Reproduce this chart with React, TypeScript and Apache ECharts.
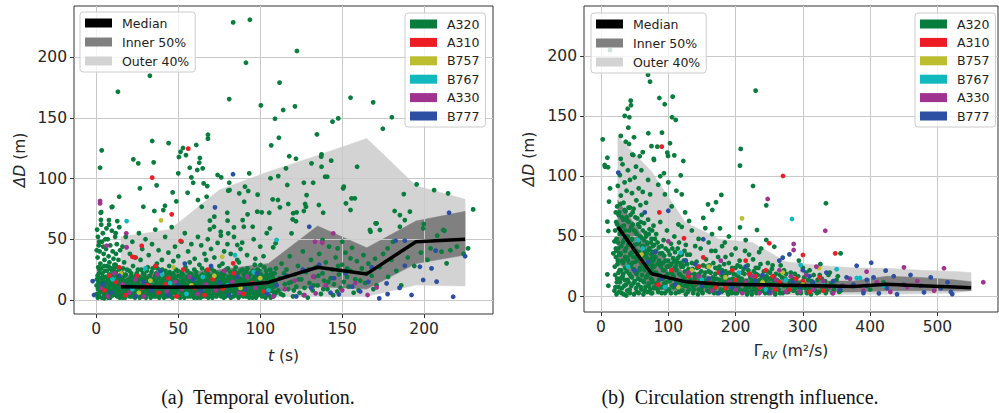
import React, { useEffect, useRef } from "react";
import * as echarts from "echarts";

const FONT = "DejaVu Sans";
const AIRCRAFT = ["A320", "A310", "B757", "B767", "A330", "B777"];
const AC_COLORS = ["#087d3e", "#ee1d25", "#bcbd2f", "#0fb9bd", "#a0338f", "#2c4fa3"];
const BAND_NAMES = ["Median", "Inner 50%", "Outer 40%"];
const BAND_COLORS = ["#000000", "#808080", "#d3d3d3"];

const LEFT_X_TICKS = [0, 50, 100, 150, 200];
const RIGHT_X_TICKS = [0, 100, 200, 300, 400, 500];
const Y_TICKS = [0, 50, 100, 150, 200];

// ---------- panel (a): temporal evolution ----------
const leftBinT = [15, 45, 75, 105, 135, 165, 195, 225];
const leftMedian = [11, 10.5, 11, 14.5, 27, 21.5, 48, 50];
const leftInnerLo = [4, 4, 5, 6, 11, 9, 30, 37];
const leftInnerHi = [20, 22, 25, 30, 61, 43, 65, 73];
const leftOuterLo = [2, 2, 2, 2.5, 2.7, 3, 12.3, 11.5];
const leftOuterHi = [52, 58, 90.5, 105.6, 119, 133, 94, 83];

const leftA320 = [
  [83.5,228.5],[93.7,230.7],[122.4,205],[91.3,195.3],[32.7,184.6],[13.2,171.4],[111.8,178.9],[81.1,165.4],[100.4,160.2],[114,156.4],[121.2,159.4],[155.1,166.5],[168.9,162.7],[180.3,150.4],[174.8,141],[109,149.2],[144.1,146.8],[147.6,149.5],[134.6,136.4],[111.4,133.6],[106.7,127.3],[137.4,119.9],[117.7,118.3],[121.8,116.3],[3.3,123.2],[34.1,130.9],[44.1,129.2],[68.1,132.8],[68.1,136],[61,127.6],[52.9,125.1],[50.4,117.7],[54.7,119.3],[63.2,116.9],[22.6,115.8],[2.3,108.9],[25.6,112.5],[35,113.3],[36.8,94.4],[26.6,91.9],[9.4,76.5],[14,85],[3,72.4],[28.7,76.8],[35.4,73.3],[40.9,74],[41.9,77.6],[46.6,88.6],[48.8,81.2],[50,104.3],[51.4,122],[57,108.9],[58,101],[59.1,96.5],[55.7,88.3],[62,82.3],[67.3,85],[65.5,96],[67.7,93.8],[64.9,108.4],[61.6,107],[62.8,113],[74,102.9],[76.2,101],[81.1,96.5],[81.3,90.5],[79.9,71.8],[80.1,65.3],[72,68.6],[69.3,58.2],[64.3,76.8],[69.3,65.3],[87.2,87.8],[90.7,93.3],[93.3,104.3],[92.7,89.7],[90.2,80.9],[92.3,70.5],[89.3,65.8],[95.4,60.3],[98.4,86.7],[100.9,72.2],[105.9,59],[107.6,82.9],[105.5,71.8],[112,76.3],[111,102],[106.3,100.2],[115.7,108.4],[116.5,94.7],[117.1,79],[120.1,71.4],[121.8,64.8],[119.1,54.9],[126.6,96.5],[128.3,86.4],[127.9,76.8],[131.3,112.5],[137.2,118],[137.4,109.7],[139.6,101.5],[143.3,114.7],[138.4,71.8],[138,49.4],[135.8,78.2],[132.3,96.5],[147.2,42.5],[150.6,91.9],[152.3,79.6],[155.7,83.7],[155.1,74.1],[159.1,109.7],[151,93.3],[166.9,57.6],[171,63.1],[173,57.6],[167.3,56.2],[187.6,87.2],[188.2,65.8],[185.2,69.9],[191.3,72.7],[185.2,60.3],[195.4,95.2],[199.8,62.6],[199.4,59],[206.1,90.5],[214.6,87.8],[211.6,57.6],[213.7,30.2],[229.9,74.6],[226.8,42.5],[177.7,42.5],[182,73.3],[203.9,42.5],[210.6,39.8],[9.8,76.8],[7.7,65.8],[2.7,71.8],[84,59.8],[90,60.3],[80.5,54.9],[71.8,60.3],[75.9,56.2],[86,45.3],[89,47.2],[100.2,28.8],[109.4,46.7],[107.9,43.4],[98.2,72.7],[80.5,90],[110.8,82.3],[127.4,79],[126.6,73.3],[122.2,72.2],[119.8,66.4],[155.1,34.3],[153,26.1],[150,48],[170.4,63.1],[212.4,57],[157.7,83.7],[140.9,101.5],
  [0.5,58],[1,52],[1.5,45],[2,40],[0.8,35],[2.5,30],[1.2,27],[3.5,48],[4,55],[4.5,38],[5,33],[3,62],[6,42],[6.5,28],[7,50],[7.5,36],[8,31],[8.5,45],[9,25],[9.5,57],[10,40],[10.5,34],[11,29],[11.5,52],[12,38],[12.5,46],[13,27],[13.5,33],[14,60],[14.5,41],[1.8,48],[2.8,66],[4.2,44],[5.5,50],[0.3,41],[6.2,59],[7.8,62],[11.8,55],[12.8,65],
  [16,44],[18,52],[20.5,38],[22,48],[24,35],[26,55],[28,42],[30,50],[32,37],[34,46],[36,58],[38,41],[40,33],[42,52],[44,39],[46,60],[48,44],[50,36],[52,48],[54,55],[56,40],[58,46],[60,34],[62,52],[64,45],[66,38],[68,50],[70,42],[72,35],[74,47],[76,53],[78,40],[80,46],[82,38],[84,52],[86,33],[88,42],[92,37],[96,50],[100,44],[102,36],[104,55],[17,31],[27,33],[37,30],[47,32],[57,31],[67,33],[77,30],[87,31],[97,34],
  [0.2,12],[0.5,5],[0.8,20],[1,9],[1.3,15],[1.6,3],[1.9,25],[2.2,11],[2.5,7],[2.8,18],[3.1,14],[3.4,2],[3.7,22],[4,9],[4.3,16],[4.6,5],[4.9,28],[5.2,12],[5.5,19],[5.8,7],[6.1,3],[6.4,24],[6.7,13],[7,9],[7.3,17],[7.6,5],[7.9,21],[8.2,11],[8.5,2],[8.8,15],[9.1,26],[9.4,8],[9.7,19],[10,13],[10.3,4],[10.6,23],[10.9,10],[11.2,16],[11.5,6],[11.8,29],[12.1,12],[12.4,20],[12.7,3],[13,9],[13.3,17],[13.6,14],[13.9,25],[14.2,7],[14.5,11],
  [15,4],[15.4,18],[15.8,10],[16.3,26],[16.7,6],[17.1,14],[17.6,2],[18,21],[18.4,9],[18.9,16],[19.3,5],[19.8,12],[20.2,24],[20.6,8],[21.1,19],[21.5,3],[22,13],[22.4,28],[22.9,7],[23.3,17],[23.8,11],[24.2,4],[24.7,22],[25.1,14],[25.6,9],[26,19],[26.5,2],[26.9,12],[27.4,25],[27.8,6],[28.3,16],[28.7,10],[29.2,21],[29.6,4],[30.1,13],[30.5,8],[31,18],[31.4,27],[31.9,5],[32.3,11],[32.8,15],[33.2,2],[33.7,23],[34.1,9],[34.6,17],[35,6],[35.5,12],[35.9,20],[36.4,3],[36.8,14],[37.3,26],[37.7,8],[38.2,18],[38.6,11],[39.1,4],[39.5,22],[40,13],[40.4,7],[40.9,16],[41.3,2],[41.8,10],[42.2,24],[42.7,5],[43.1,19],[43.6,12],[44,8],[44.5,28],[44.9,15],[45.4,3],[45.8,21],[46.3,9],[46.7,13],[47.2,6],[47.6,18],[48.1,11],[48.5,25],[49,4],[49.4,16],[49.9,8],[50.3,20],[50.8,12],[51.2,2],[51.7,14],[52.1,23],[52.6,7],[53,17],[53.5,10],[53.9,5],[54.4,27],[54.8,13],[55.3,19],[55.7,3],[56.2,9],[56.6,15],[57.1,22],[57.5,6],[58,12],[58.4,18],[58.9,4],[59.3,10],[59.8,25],[60.2,14],[60.7,7],[61.1,20],[61.6,2],[62,11],[62.5,16],[62.9,29],[63.4,5],[63.8,13],[64.3,9],[64.7,21],[65.2,3],[65.6,17],[66.1,12],[66.5,6],[67,24],[67.4,10],[67.9,15],[68.3,2],[68.8,19],[69.2,8],[69.7,13],[70.1,26],[70.6,4],[71,16],[71.5,11],[71.9,7],[72.4,21],[72.8,14],[73.3,3],[73.7,18],[74.2,9],[74.6,12],[75.1,28],[75.5,5],[76,15],[76.4,22],[76.9,8],[77.3,11],[77.8,2],[78.2,17],[78.7,13],[79.1,25],[79.6,6],[80,10],[80.5,19],[80.9,4],[81.4,14],[81.8,23],[82.3,8],[82.7,16],[83.2,12],[83.6,3],[84.1,20],[84.5,10],[85,27],[85.4,6],[85.9,15],[86.3,12],[86.8,2],[87.2,18],[87.7,9],[88.1,24],[88.6,5],[89,14],[89.5,11],[89.9,21],[90.4,7],[90.8,16],[91.3,3],[91.7,12],[92.2,26],[92.6,9],[93.1,19],[93.5,5],[94,14],[94.4,22],[94.9,10],[95.3,2],[95.8,17],[96.2,12],[96.7,29],[97.1,7],[97.6,15],[98,20],[98.5,4],[98.9,11],[99.4,24],[99.8,8],[100.3,16],[100.7,13],[101.2,3],[101.6,19],[102.1,10],[102.5,27],[103,6],[103.4,14],[103.9,21],[104.3,9],[104.8,17],[105.2,4],[105.7,12],[106.1,25],[106.6,8],[107,15],[107.5,19],[107.9,3],[108.4,11],[108.8,22],[109.3,14],[109.7,6],
  [0.4,17],[0.9,2],[1.4,10],[1.7,22],[2.1,6],[2.6,14],[3,26],[3.3,8],[3.9,19],[4.4,12],[4.8,1.5],[5.3,24],[5.7,15],[6.2,9],[6.6,19],[7.1,2],[7.5,13],[8,27],[8.4,7],[8.9,21],[9.3,14],[9.8,4],[10.2,18],[10.7,26],[11.1,8],[11.6,13],[12,23],[12.5,5],[12.9,16],[13.4,10],[13.8,20],[14.3,2],[14.7,15],
  [15.2,12],[15.6,22],[16.1,2],[16.5,16],[17,9],[17.4,20],[17.9,12],[18.3,5],[18.7,25],[19.1,14],[19.6,8],[20,17],[20.4,3],[20.9,11],[21.3,22],[21.8,15],[22.2,6],[22.7,18],[23.1,10],[23.6,2],[24,20],[24.5,13],[24.9,7],[25.4,25],[25.8,16],[26.3,5],[26.7,11],[27.2,18],[27.6,9],[28.1,3],[28.5,22],[29,14],[29.4,8],[29.9,18],[30.3,2],[30.8,24],[31.2,10],[31.7,15],[32.1,7],[32.6,20],[33,13],[33.5,5],[33.9,17],[34.4,26],[34.8,12],[35.3,3],[35.7,9],[36.2,16],[36.6,22],[37.1,5],[37.5,11],[38,14],[38.4,2],[38.9,20],[39.3,9],[39.8,16],[40.2,25],[40.7,11],[41.1,4],[41.6,18],[42,8],[42.5,13],[42.9,21],[43.4,3],[43.8,15],[44.3,10],[44.7,23],[45.2,6],[45.6,17],[46.1,12],[46.5,2],[47,22],[47.4,9],[47.9,14],[48.3,19],[48.8,6],[49.2,12],[49.7,24],[50.1,3],[50.6,15],[51,9],[51.5,19],[51.9,5],[52.4,11],[52.8,21],[53.3,14],[53.7,2],[54.2,17],[54.6,8],[55.1,12],[55.5,24],[56,6],[56.4,18],[56.9,11],[57.3,3],[57.8,15],[58.2,21],[58.7,8],[59.1,13],[59.6,2],[60,18],[60.5,10],[60.9,23],[61.4,5],[61.8,14],[62.3,8],[62.7,19],[63.2,12],[63.6,2],[64.1,16],[64.5,26],[65,10],[65.4,6],[65.9,20],[66.3,14],[66.8,3],[67.2,17],[67.7,8],[68.1,22],[68.6,12],[69,5],[69.5,16],[69.9,10],[70.4,20],[70.8,2],[71.3,13],[71.7,24],[72.2,6],[72.6,17],[73.1,10],[73.5,22],[74,5],[74.4,15],[74.9,8],[75.3,19],[75.8,12],[76.2,3],[76.7,18],[77.1,14],[77.6,6],[78,21],[78.5,9],[78.9,3],[79.4,16],[79.8,12],[80.3,26],[80.7,7],[81.2,18],[81.6,11],[82.1,2],[82.5,20],[83,14],[83.4,7],[83.9,17],[84.3,24],[84.8,4],[85.2,13],[85.7,19],[86.1,8],[86.6,22],[87,15],[87.5,4],[87.9,11],[88.4,17],[88.8,8],[89.3,25],[89.7,3],[90.2,13],[90.6,19],[91.1,9],[91.5,23],[92,6],[92.4,15],[92.9,11],[93.3,2],[93.8,21],[94.2,8],[94.7,16],[95.1,12],[95.6,24],[96,5],[96.5,19],[96.9,9],[97.4,2],[97.8,13],[98.3,25],[98.7,16],[99.2,6],[99.6,18],[100.1,10],[100.5,21],[101,4],[101.4,14],[101.9,8],[102.3,18],[102.8,12],[103.2,2],[103.7,24],[104.1,15],[104.6,6],[105,20],[105.5,9],[105.9,16],[106.4,2],[106.8,22],[107.3,11],[107.7,7],[108.2,17],[108.6,4],[109.1,13],[109.5,26],
  [111,8],[112,18],[113,30],[114,4],[115,13],[116,25],[117,9],[118,36],[119,15],[120,3],[121,21],[122,11],[123,28],[124,6],[125,17],[126,40],[127,10],[128,23],[129,2],[130,14],[131,33],[132,8],[133,19],[134,27],[135,12],[136,38],[137,5],[138,22],[139,16],[140,31],[141,9],[142,44],[143,18],[144,25],[145,13],[146,35],[147,7],[148,21],[150,29],[151,15],[152,39],[154,11],[155,24],[156,43],[158,17],[159,32],[160,8],[162,26],[163,37],[164,14],[166,30],[168,20],[170,34],[171,12],[173,27],[175,38],[178,19],[180,33],[181,48],[183,24],[186,12],[190,35],[194,28],[198,39],[202,33],[208,53],[216,41],[220,44],[224,38],
  [112.5,5],[114.5,22],[117.5,14],[120.5,8],[123.5,17],[126.5,4],[129.5,25],[132.5,12],[135.5,20],[138.5,9],[141.5,15],[144.5,4],[147.5,28],[149,10],[153,19],[157,6],[161,16],[165,22],[169,9]
];
const leftA310 = [[56.1,124.6],[34.1,100.7],[46,70.5],[51.4,48.6],[27.7,44.7],[22,35.6],[23.5,35],[83.5,30.2],[5,8],[12,15],[18,4],[25,20],[31,12],[38,6],[44,18],[49,3],[53,25],[60,10],[66,4],[71,17],[77,9],[84,22],[90,5],[95,14],[102,7],[68,25],[36,28],[14,27],[8,20],[28,10],[42,13]];
const leftB757 = [[39.5,65.6],[76.8,35.6],[15,22],[33,16],[47,27],[58,12],[72,20],[88,10],[26,6],[100,18]];
const leftB767 = [[18.5,65],[84.6,37],[110,49.4],[10,17],[22,9],[30,26],[45,14],[55,5],[65,19],[80,12],[96,23],[105,8],[40,21]];
const leftA330 = [[2.3,81.5],[2.3,79.5],[18.3,54.9],[18.5,43.4],[6.3,44.7],[133.4,48],[144.5,54.9],[137.8,47.2],[165.5,4.1],[171,10.4],[133.8,5.5],[132.3,19.2],[3,10],[7,3],[11,22],[16,13],[20,6],[24,17],[29,3],[33,11],[37,21],[43,7],[48,15],[52,9],[57,19],[62,5],[67,13],[73,8],[78,24],[83,15],[87,6],[92,19],[97,10],[103,14],[108,3],[115,9],[121,16],[127,4],[140,12],[150,8],[158,14]];
const leftB777 = [[83.4,103.5],[72.4,76.3],[129.9,60.3],[215.2,71.8],[217.7,2.7],[207.6,15.1],[204.5,26],[207,40.6],[197.4,27.4],[199.4,16.5],[192.3,4.1],[188.2,28.2],[188.2,48.8],[182.6,48.8],[172.6,1.4],[177.7,4.9],[177.1,13.7],[156.1,11],[148,4.7],[142.9,6],[-2.2,15.6],[-1.4,4.1],[4,13],[9,6],[14,20],[19,11],[24,3],[29,15],[34,8],[39,24],[44,4],[50,12],[54,30],[59,17],[64,8],[70,28],[75,14],[81,4],[86,19],[91,9],[98,22],[104,5],[110,12],[116,20],[122,3],[126,25],[131,10],[136,29],[145,18],[152,22],[161,7],[166,15],[168,27],[185,10],[225,36]];

// ---------- panel (b): circulation strength ----------
const rightBinG = [25, 75, 125, 175, 225, 275, 325, 375, 425, 475, 525, 550];
const rightMedian = [58, 19, 12.5, 10.5, 10, 9.5, 9, 8.5, 10.3, 9, 8, 7.5];
const rightInnerLo = [28, 6, 4.5, 4, 4, 4, 4, 4, 5, 5, 5, 5];
const rightInnerHi = [80, 40, 20, 16, 15, 14, 13, 13, 17, 16, 14, 12.5];
const rightOuterLo = [2, 1.5, 1.5, 1.5, 1.5, 1.5, 1.5, 2, 2, 2.5, 3, 5];
const rightOuterHi = [133, 104, 62, 48, 45, 29, 26, 24, 23.6, 22, 21, 20];

const rightA320 = [
  [13.4,204.7],[69.8,184.4],[72.8,178.6],[229.8,171.1],[86.7,165],[106.5,166.1],[44.1,162.8],[44.6,159],[39.6,156.1],[94.6,159.8],[35.2,150.1],[42.1,149],[105.5,149],[111,146.8],[40.6,140.4],[2.5,130.7],[29.3,133.5],[49,132.4],[70.3,135.7],[90.6,136.2],[36.7,128.7],[41.6,126.8],[83.7,124.6],[102.5,127.4],[98.5,119.6],[99.6,116.9],[108.9,117.4],[207.6,122.7],[9.4,115.4],[29.3,114.4],[48,117.7],[57.5,116.6],[78.3,114.4],[5.4,109.4],[10.4,107.5],[46.5,118],[122.3,112.7],[118.4,100.8],[93.6,102.5],[78.8,113.5],[206.5,108.8],[225.9,91.9],[178.8,84.5],[170.9,78.4],[159,76.7],[165.4,72],[152,65.4],[130.8,62.9],[176.8,56.8],[206.5,57.6],[231.8,55.4],[245.6,75.9],[334.3,77.6],[245.6,47.1],[257.5,41.5],[356.1,36],
  [5.9,108],[13.4,90],[11.9,79],[9.4,62.3],[10.9,54.6],[9.4,18.6],[10.9,9.1],[18.3,36],[20,46],
  [95,85],[105,75],[115,60],[125,70],[135,55],[145,48],[140,42],[160,45],[170,38],[185,33],[190,50],[200,40],[215,47],[220,35],[235,37],[155,57],[165,52],[180,42],[112,88],[100,95],[88,100],[120,85],[60,105],[70,97],[52,108],[62,120],[75,125],[85,93],
  [20,5],[21,18],[22,33],[22.5,62],[23,48],[23.5,12],[24,75],[24.5,27],[25,92],[25.5,40],[26,8],[26.5,57],[27,70],[27.5,22],[28,101],[28.5,36],[29,15],[29.5,84],[30,52],[30.5,3],[31,66],[31.5,29],[32,110],[32.5,45],[33,19],[33.5,78],[34,59],[34.5,9],[35,95],[35.5,38],[36,24],[36.5,71],[37,50],[37.5,1],[38,88],[38.5,31],[39,63],[39.5,14],[40,105],[40.5,43],[41,74],[41.5,26],[42,55],[42.5,6],[43,97],[43.5,35],[44,68],[44.5,17],[45,47],
  [46,86],[46.5,28],[47,60],[48,11],[48.5,73],[49,40],[50,99],[50.5,21],[51,54],[52,33],[52.5,80],[53,4],[54,65],[54.5,44],[55,15],[56,90],[56.5,37],[57,58],[58,24],[58.5,76],[59,8],[60,49],[60.5,68],[61,30],[62,87],[62.5,13],[63,42],[64,61],[64.5,22],[65,5],[66,53],[66.5,35],[67,78],[68,17],[68.5,45],[69,28],[70,64],[70.5,9],[71,39],[72,56],[72.5,20],[73,85],[74,31],[74.5,3],[75,48],[76,14],[76.5,37],[77,26],[78,59],[78.5,7],[79,43],[80,19],
  [81,33],[82,52],[83,11],[84,27],[85,4],[86,41],[87,18],[88,62],[89,25],[90,8],[91,36],[92,15],[93,47],[94,22],[95,3],[96,30],[97,12],[98,55],[99,19],[100,38],[101,6],[102,26],[103,14],[104,44],[105,21],[106,9],[107,32],[108,17],[109,50],[110,24],[111,3],[112,13],[113,29],[114,40],[115,7],[116,19],[117,34],[118,11],[119,25],[120,58],[121,5],[122,16],[123,30],[124,9],[125,21],[126,43],[127,13],[128,27],[129,4],[130,18],
  [132,35],[134,10],[136,23],[138,6],[140,15],[142,29],[144,2],[146,19],[148,40],[150,8],[152,26],[154,13],[156,31],[158,5],[160,21],[162,11],[164,38],[166,16],[168,3],[170,24],[172,9],[174,33],[176,14],[178,6],[180,22],[182,12],[184,45],[186,18],[188,4],[190,28],[192,10],[194,35],[196,15],[198,7],[200,24],[202,3],[204,17],[206,30],[208,11],[210,20],[212,5],[214,38],[216,13],[218,26],[220,8],[222,16],[224,2],[226,31],[228,10],[230,19],[232,6],[234,24],[236,14],[238,40],[240,9],[242,21],[244,3],[246,17],[248,28],[250,11],[252,7],[254,23],[256,14],[258,4],[260,19],
  [263,9],[267,26],[270,3],[274,15],[278,8],[282,20],[286,5],[290,12],[294,30],[298,7],[302,16],[306,3],[310,22],[314,10],[318,5],[322,14],[326,27],[330,8],[334,3],[338,18],[342,11],[346,6],[350,14],[354,4],[358,9],[400,6],[420,12],[395,9],
  [20.5,25],[21.5,8],[22,40],[23,2],[24,15],[25,30],[26,20],[27,4],[28,12],[29,35],[30,22],[31,7],[32,17],[33,28],[34,2],[35,14],[36,33],[37,10],[38,21],[39,5],[40,30],[41,12],[42,19],[43,3],[44,26],[45,9],[46,16],[47,37],[48,23],[49,2],[50,13],[51,29],[52,7],[53,19],[54,31],[55,10],[56,3],[57,22],[58,14],[59,34],[60,6],[61,18],[62,27],[63,2],[64,12],[65,24],[66,8],[67,16],[68,32],[69,4],[70,19],[71,11],[72,27],[73,6],[74,15],[75,23],[76,3],[77,12],[78,30],[79,20],[80,8],
  [82,20],[84,6],[86,14],[88,28],[90,3],[92,22],[94,11],[96,17],[98,5],[100,25],[102,13],[104,3],[106,19],[108,8],[110,30],[112,22],[114,12],[116,4],[118,18],[120,10],[122,26],[124,15],[126,2],[128,9],[130,23],[131,6],[133,14],[135,28],[137,3],[139,19],[141,10],[143,24],[145,6],[147,13],[149,21],[151,3],[153,17],[155,9],[157,25],[159,14],[161,4],[163,20],[165,10],[167,28],[169,7],[171,15],[173,3],[175,22],[177,11],[179,18],[181,5],[183,27],[185,9],[187,14],[189,2],[191,20],[193,6],[195,24],[197,12],[199,3],[201,18],[203,9],[205,14],[207,25],[209,4],[211,12],[213,19],[215,7],[217,2],[219,22],[221,11],[223,16],[225,5],[227,21],[229,14],[231,3],[233,18],[235,9],[237,27],[239,12],[241,5],[243,16],[245,10],[247,21],[249,3],[251,15],[253,8],[255,26],[257,11],[259,2],[261,14],[264,6],[266,18],[268,11],[272,22],[276,4],[280,13],[284,9],[288,19],[292,3],[296,11],[300,24],[304,7],[308,14],[312,2],[316,18],[320,9],[324,4],[328,15],[332,11],[336,6],[340,20],[344,3],[348,9],[352,17],[356,5],
  [21,55],[22,70],[23,38],[24,60],[25,45],[26,68],[27,35],[28,52],[29,77],[30,42],[31,58],[32,30],[33,64],[34,47],[35,72],[36,55],[37,40],[38,66],[39,32],[40,50],[41,62],[42,44],[43,74],[44,36],[45,58],[46,48],[47,70],[48,33],[49,55],[50,43],[51,66],[52,38],[53,52],[54,30],[55,60],[56,45],[57,35],[58,50],[59,62],[60,28],[61,42],[62,55],[63,34],[64,47],[65,38],[66,26],[67,50],[68,36],[69,44],[70,30],[71,52],[72,40],[73,27],[74,45],[75,35],[76,55],[77,42],[78,32],[79,25],[80,48],[82,38],[84,45],[86,30],[88,36],[90,42],[92,28],[94,34],[96,40],[98,25],[100,30],[102,35],[104,27],[106,40],[108,29],[110,37],[112,26],[114,32],[116,45],[118,28],[120,35],[122,25],[124,38],[126,30],[128,35],
  [131,12],[134,20],[137,8],[140,17],[143,11],[146,25],[149,5],[152,14],[155,20],[158,9],[161,26],[164,7],[167,13],[170,19],[173,10],[176,25],[179,4],[182,16],[185,21],[188,9],[191,14],[194,3],[197,19],[200,11],[203,26],[206,6],[209,15],[212,23],[215,10],[218,4],[221,19],[224,13],[227,7],[230,24],[233,11],[236,4],[239,17],[242,9],[245,14],[248,6],[251,20],[254,10],[257,17],[260,6],[263,13],[266,3],[269,16],[272,9],[275,19],[278,4],[281,10],[285,15],[289,7],[293,17],[297,3],[301,11],[305,20],[309,6],[313,13],[317,9],[321,3],[325,18],[329,7],[333,13]
];
const rightA310 = [[90.2,124.6],[270.4,100.2],[250.1,44.4],[300.1,34.6],[348.2,36],[86.7,70],[123.3,48.5],[152,32.7],[145,25],[105,22],[130,17],[160,12],[175,20],[200,14],[215,30],[235,8],[255,17],[265,12],[280,6],[310,4],[290,15],[325,16],[60,30],[85,10],[220,19],[185,7],[245,22],[300,13],[330,5],[140,12],[170,8],[195,22],[230,17],[260,6]];
const rightB757 = [[209.5,65.1],[323.9,23.6],[135,22],[185,16],[60,35],[115,8],[160,25],[240,12],[270,20],[300,10]];
const rightB767 = [[283.8,64.5],[296.7,26.3],[350.2,22.8],[380,15.5],[385,15.5],[40,25],[55,47],[118.4,36.5],[95,8],[150,14],[205,20],[245,6],[275,14],[330,11],[420,9],[62,40]];
const rightA330 = [[247.7,81.1],[333.3,54.8],[286.3,43.8],[286.3,38.8],[394.7,20.8],[450.2,24.4],[509.7,23.6],[568.1,12],[100,46],[130,20],[165,5],[190,12],[210,3],[225,17],[240,9],[260,14],[275,4],[290,10],[305,18],[315,6],[330,13],[345,3],[360,9],[370,15],[390,5],[410,12],[430,4],[455,8],[470,13],[495,5],[265,22],[320,25],[178,30],[200,6],[252,3],[282,17],[340,8],[145,17],[215,12],[235,3],[255,9],[295,4],[325,9]];
const rightB777 = [[379.9,25.7],[401.6,28.2],[423,21.6],[522,2.2],[480,3.6],[413,2.8],[25.7,103],[65,70],[100,71.4],[80,37],[70,29],[50,22],[90,15],[110,10],[140,27],[152,47.7],[180,20],[195,8],[215,25],[230,13],[250,4],[270,32.4],[280,35.2],[265,30],[295,8],[315,12],[335,20],[355,6],[375,10],[390,3],[405,16],[425,7],[435,17],[450,10],[460,18],[475,9],[490,16],[505,7],[515,12],[520,4],[440,2],[395,14],[365,16],[345,13],[300,22],[150,9],[125,30],[160,15],[175,3],[205,10],[240,18],[285,12],[310,17]];

const leftScatter = [leftA320, leftA310, leftB757, leftB767, leftA330, leftB777];
const rightScatter = [rightA320, rightA310, rightB757, rightB767, rightA330, rightB777];

function bandSeries(name: string, xs: number[], lo: number[], hi: number[], color: string, idx: number, z: number) {
  return {
    type: "custom",
    name,
    xAxisIndex: idx,
    yAxisIndex: idx,
    z,
    silent: true,
    itemStyle: { color },
    data: xs.map((x, i) => [x, lo[i], hi[i]]),
    encode: { x: 0, y: [1, 2] },
    renderItem: (params: any, api: any) => {
      if (params.dataIndexInside !== 0) return null;
      const n = params.dataInsideLength;
      const top: number[][] = [];
      const bot: number[][] = [];
      for (let j = 0; j < n; j++) {
        top.push(api.coord([api.value(0, j), api.value(2, j)]));
        bot.push(api.coord([api.value(0, j), api.value(1, j)]));
      }
      return {
        type: "polygon",
        shape: { points: top.concat(bot.reverse()) },
        style: { fill: color, stroke: color, lineWidth: 0.5 },
      };
    },
  };
}

function xAxisCfg(gi: number, min: number, max: number, ticks: number[], name: string, gap: number) {
  return {
    type: "value", gridIndex: gi, min, max, z: 1,
    axisLine: { show: false, onZero: false },
    axisTick: { show: true, inside: false, length: 4, lineStyle: { color: "#333", width: 1 }, customValues: ticks },
    axisLabel: { show: true, customValues: ticks, margin: 7, fontSize: 15.5, fontFamily: FONT, color: "#262626" },
    splitLine: { show: true, lineStyle: { color: "#c9c9c9", width: 1 } },
    name, nameLocation: "middle", nameGap: gap,
    nameTextStyle: {
      fontSize: 15.5, fontFamily: FONT, color: "#262626", lineHeight: 18,
      rich: {
        i: { fontSize: 15.5, fontFamily: FONT, fontStyle: "italic", color: "#262626", lineHeight: 18 },
        n: { fontSize: 15.5, fontFamily: FONT, color: "#262626", lineHeight: 18 },
        s: { fontSize: 10.5, fontFamily: FONT, fontStyle: "italic", color: "#262626", lineHeight: 8, verticalAlign: "bottom" },
      },
    },
  };
}

function yAxisCfg(gi: number, min: number, max: number, gap: number) {
  return {
    type: "value", gridIndex: gi, min, max, z: 1,
    axisLine: { show: false, onZero: false },
    axisTick: { show: true, inside: false, length: 4, lineStyle: { color: "#333", width: 1 }, customValues: Y_TICKS },
    axisLabel: { show: true, customValues: Y_TICKS, margin: 7, fontSize: 15.5, fontFamily: FONT, color: "#262626" },
    splitLine: { show: true, lineStyle: { color: "#c9c9c9", width: 1 } },
    name: "{i|ΔD} (m)", nameLocation: "middle", nameGap: gap, nameRotate: 90,
    nameTextStyle: {
      fontSize: 15.5, fontFamily: FONT, color: "#262626",
      rich: { i: { fontSize: 15.5, fontFamily: FONT, fontStyle: "italic", color: "#262626" } },
    },
  };
}

const legendCommon = {
  orient: "vertical",
  itemWidth: 27,
  itemHeight: 9,
  itemGap: 5,
  padding: [4, 6, 4, 5],
  backgroundColor: "rgba(255,255,255,0.8)",
  borderColor: "#cccccc",
  borderWidth: 1,
  borderRadius: 3,
  selectedMode: false,
  z: 6,
  textStyle: { fontSize: 12.5, fontFamily: FONT, color: "#222", lineHeight: 14, padding: [0, 0, 0, 5] },
};

function bandLegend(left: number, top: number) {
  return {
    ...legendCommon, left, top,
    data: BAND_NAMES.map((n, i) => ({ name: n, icon: "rect", itemStyle: { color: BAND_COLORS[i], borderWidth: 0 } })),
  };
}
function acLegend(left: number, top: number) {
  return {
    ...legendCommon, left, top, itemGap: 4.4,
    data: AIRCRAFT.map((n, i) => ({ name: n, icon: "rect", itemStyle: { color: AC_COLORS[i], borderWidth: 0 } })),
  };
}

function panelSeries(idx: number, xs: number[], med: number[], iLo: number[], iHi: number[], oLo: number[], oHi: number[], pts: number[][][]) {
  const s: any[] = [];
  s.push(bandSeries("Outer 40%", xs, oLo, oHi, BAND_COLORS[2], idx, 0));
  s.push(bandSeries("Inner 50%", xs, iLo, iHi, BAND_COLORS[1], idx, 0));
  AIRCRAFT.forEach((name, k) => {
    s.push({
      type: "scatter", name, xAxisIndex: idx, yAxisIndex: idx, z: 2,
      symbol: "circle", symbolSize: 4.8, silent: true,
      itemStyle: { color: AC_COLORS[k], opacity: 1 },
      data: pts[k],
    });
  });
  s.push({
    type: "line", name: "Median", xAxisIndex: idx, yAxisIndex: idx, z: 3,
    symbol: "none", silent: true,
    itemStyle: { color: "#000" },
    lineStyle: { color: "#000", width: 3.5, join: "round" },
    data: xs.map((x, i) => [x, med[i]]),
  });
  return s;
}

export default function App() {
  const ref = useRef<HTMLDivElement>(null);
  useEffect(() => {
    if (!ref.current) return;
    const chart = echarts.init(ref.current, null, { renderer: "svg" });
    const option: any = {
      animation: false,
      backgroundColor: "#ffffff",
      grid: [
        { left: 74, top: 6, width: 419, height: 308, show: true, borderColor: "#333", borderWidth: 1, backgroundColor: "transparent", containLabel: false },
        { left: 584, top: 6, width: 414, height: 306, show: true, borderColor: "#333", borderWidth: 1, backgroundColor: "transparent", containLabel: false },
      ],
      xAxis: [
        xAxisCfg(0, -13.6, 242, LEFT_X_TICKS, "{i|t}{n| (s)}", 33),
        xAxisCfg(1, -25.3, 590, RIGHT_X_TICKS, "{n|Γ}{s|RV}{n| (m²/s)}", 30),
      ],
      yAxis: [yAxisCfg(0, -11.5, 242, 46), yAxisCfg(1, -12.7, 241.4, 47)],
      legend: [bandLegend(80, 12), acLegend(405, 13), bandLegend(591, 13), acLegend(915, 13)],
      graphic: [
        { type: "text", x: 258, y: 397, style: { text: "(a)  Temporal evolution.", fontFamily: "Liberation Serif", fontSize: 20, fill: "#111", align: "center", verticalAlign: "middle" } },
        { type: "text", x: 740, y: 397, style: { text: "(b)  Circulation strength influence.", fontFamily: "Liberation Serif", fontSize: 20, fill: "#111", align: "center", verticalAlign: "middle" } },
      ],
      series: [
        ...panelSeries(0, leftBinT, leftMedian, leftInnerLo, leftInnerHi, leftOuterLo, leftOuterHi, leftScatter),
        ...panelSeries(1, rightBinG, rightMedian, rightInnerLo, rightInnerHi, rightOuterLo, rightOuterHi, rightScatter),
      ],
    };
    chart.setOption(option);
    return () => chart.dispose();
  }, []);
  return <div ref={ref} style={{ position: "fixed", left: 0, top: 0, width: 999, height: 413 }} />;
}
